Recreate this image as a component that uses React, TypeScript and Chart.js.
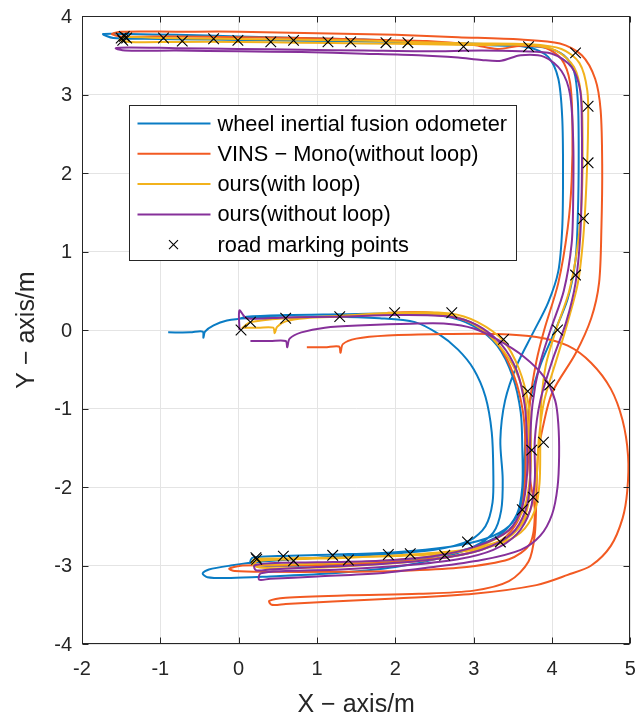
import { useEffect, useRef } from "react";
import { Chart, registerables } from "chart.js";

Chart.register(...registerables);

type P = [number, number];

const seriesLabels = [
  "wheel inertial fusion odometer",
  "VINS \u2212 Mono(without loop)",
  "ours(with loop)",
  "ours(without loop)",
  "road marking points",
];
const seriesColors = ["#0a7cc4", "#f25a22", "#f2b21c", "#86309a"];

const xTicks = [-2, -1, 0, 1, 2, 3, 4, 5];
const yTicks = [-4, -3, -2, -1, 0, 1, 2, 3, 4];

// wheel inertial fusion odometer
const wheelOdom: P[] = [
  [-0.9, -0.03], [-0.62, -0.03], [-0.46, -0.02], [-0.45, -0.1], [-0.43, -0.02], [-0.32, 0.06], [-0.15, 0.12], [0.1, 0.15], [0.6, 0.16], [1.2, 0.17], [1.8, 0.15], [2.25, 0.1], [2.55, -0.05], [2.8, -0.25], [3.0, -0.5], [3.15, -0.85], [3.23, -1.3],
  [3.25, -1.8], [3.24, -2.2], [3.15, -2.5], [2.95, -2.68], [2.5, -2.8], [1.8, -2.86], [1.0, -2.9], [0.3, -2.95], [-0.1, -3.0], [-0.38, -3.05], [-0.46, -3.1], [-0.4, -3.15], [-0.1, -3.16], [0.4, -3.14], [1.2, -3.1], [2.0, -3.02], [2.6, -2.9], [3.0, -2.76], [3.25, -2.58], [3.35, -2.3], [3.37, -1.9], [3.34, -1.4],
  [3.4, -0.9], [3.55, -0.45], [3.75, -0.05], [3.95, 0.35], [4.08, 0.75], [4.13, 1.3], [4.14, 2.0], [4.13, 2.7], [4.08, 3.2], [3.95, 3.48], [3.7, 3.6], [3.2, 3.64], [2.4, 3.66], [1.6, 3.7], [0.8, 3.72], [0.0, 3.74], [-0.8, 3.76], [-1.4, 3.77], [-1.73, 3.77], [-1.6, 3.72], [-1.2, 3.71], [-0.4, 3.7], [0.4, 3.69], [1.2, 3.68], [2.0, 3.67], [2.8, 3.64], [3.4, 3.62], [3.9, 3.6], [4.15, 3.5], [4.28, 3.3], [4.33, 2.9], [4.34, 2.2], [4.33, 1.5], [4.3, 0.9], [4.2, 0.4], [4.02, -0.05], [3.85, -0.45], [3.72, -0.9],
  [3.66, -1.4], [3.64, -1.9], [3.6, -2.25], [3.45, -2.5], [3.15, -2.66], [2.7, -2.76], [2.0, -2.83], [1.2, -2.86], [0.5, -2.88], [0.18, -2.9], [0.15, -2.96], [0.3, -3.0], [0.9, -3.0], [1.7, -2.97], [2.4, -2.9], [2.95, -2.78], [3.35, -2.6], [3.55, -2.35], [3.62, -2.0], [3.62, -1.5],
  [3.6, -1.05], [3.5, -0.6], [3.3, -0.2], [3.0, 0.05], [2.6, 0.18], [2.0, 0.21], [1.3, 0.2], [0.6, 0.19], [0.1, 0.17], [0.0, 0.14],
];

// VINS-Mono (without loop)
const vinsMono: P[] = [
  [0.87, -0.22], [1.1, -0.22], [1.28, -0.21], [1.3, -0.29], [1.33, -0.18], [1.5, -0.11], [1.9, -0.07], [2.6, -0.05], [3.3, -0.05], [3.8, -0.09], [4.2, -0.2], [4.5, -0.42], [4.75, -0.75], [4.9, -1.15], [4.97, -1.6], [4.96, -2.05], [4.9, -2.4], [4.75, -2.75], [4.5, -3.0], [4.2, -3.12], [3.8, -3.25], [3.0, -3.36], [2.0, -3.42], [1.2, -3.46], [0.6, -3.49], [0.42, -3.5], [0.39, -3.45], [0.6, -3.41], [1.4, -3.38], [2.3, -3.36], [3.0, -3.32], [3.45, -3.2], [3.7, -2.95], [3.78, -2.6], [3.8, -2.1], [3.82, -1.6], [3.88, -1.25],
  [4.0, -0.8], [4.3, -0.3], [4.5, 0.15], [4.6, 0.6], [4.63, 1.3], [4.64, 2.1], [4.62, 2.8], [4.55, 3.2], [4.38, 3.5], [4.1, 3.65], [3.6, 3.7], [2.8, 3.73], [2.0, 3.76], [1.0, 3.78], [0.0, 3.8], [-0.8, 3.8], [-1.5, 3.8], [-1.62, 3.77], [-1.5, 3.74], [-0.8, 3.74], [0.0, 3.73], [0.8, 3.72], [1.6, 3.7], [2.4, 3.68], [3.0, 3.63], [3.3, 3.58], [3.6, 3.62], [3.9, 3.6], [4.12, 3.45], [4.23, 3.15], [4.26, 2.6], [4.25, 1.9], [4.2, 1.3], [4.08, 0.6], [3.9, 0.0], [3.8, -0.4], [3.72, -0.9],
  [3.7, -1.4], [3.72, -1.9], [3.78, -2.3], [3.72, -2.72], [3.45, -2.92], [2.8, -3.03], [2.0, -3.07], [1.2, -3.08], [0.4, -3.08], [-0.05, -3.07], [-0.12, -3.04], [0.05, -3.0], [0.6, -3.0], [1.4, -2.98], [2.2, -2.94], [2.9, -2.85], [3.35, -2.68], [3.58, -2.4], [3.65, -2.0], [3.66, -1.5],
  [3.63, -1.05], [3.52, -0.6], [3.32, -0.2], [3.02, 0.07], [2.6, 0.2], [2.3, 0.23], [1.9, 0.22],
];

// ours (with loop)
const oursLoop: P[] = [
  [0.05, 0.03], [0.25, 0.03], [0.44, 0.03], [0.46, -0.04], [0.49, 0.04], [0.6, 0.11], [0.85, 0.15], [1.3, 0.17], [2.0, 0.2], [2.6, 0.2], [2.95, 0.1], [3.25, -0.12], [3.5, -0.45], [3.65, -0.85], [3.7, -1.3],
  [3.72, -1.8], [3.7, -2.2], [3.6, -2.48], [3.35, -2.68], [2.9, -2.8], [2.2, -2.86], [1.4, -2.9], [0.7, -2.92], [0.25, -2.94], [0.18, -2.99], [0.3, -3.03], [0.9, -3.03], [1.7, -2.99], [2.5, -2.92], [3.1, -2.8], [3.5, -2.6], [3.72, -2.3], [3.8, -1.9], [3.83, -1.4],
  [3.9, -0.9], [4.05, -0.4], [4.2, 0.1], [4.33, 0.6], [4.4, 1.2], [4.44, 1.9], [4.46, 2.6], [4.45, 3.05], [4.35, 3.4], [4.12, 3.58], [3.7, 3.64], [3.0, 3.65], [2.2, 3.67], [1.4, 3.69], [0.6, 3.7], [-0.2, 3.71], [-1.0, 3.72], [-1.45, 3.73], [-1.52, 3.7], [-1.4, 3.67], [-0.8, 3.67], [0.0, 3.67], [0.8, 3.66], [1.6, 3.65], [2.4, 3.64], [3.1, 3.63], [3.7, 3.63], [4.05, 3.56], [4.28, 3.35], [4.37, 3.0], [4.39, 2.4], [4.38, 1.7], [4.33, 1.1], [4.22, 0.5], [4.05, 0.0], [3.92, -0.45], [3.86, -0.95],
  [3.85, -1.45], [3.84, -1.95], [3.78, -2.3], [3.6, -2.58], [3.25, -2.75], [2.7, -2.84], [2.0, -2.88], [1.2, -2.9], [0.5, -2.91], [0.2, -2.92], [0.17, -2.97], [0.3, -2.99], [0.9, -2.98], [1.7, -2.95], [2.5, -2.88], [3.05, -2.76], [3.45, -2.55], [3.65, -2.25], [3.72, -1.85], [3.73, -1.4],
  [3.7, -0.95], [3.58, -0.5], [3.38, -0.14], [3.05, 0.1], [2.7, 0.21], [2.0, 0.22], [1.3, 0.18], [0.6, 0.15], [0.15, 0.1], [0.04, 0.02],
];

// ours (without loop)
const oursNoLoop: P[] = [
  [0.15, -0.14], [0.4, -0.14], [0.6, -0.14], [0.62, -0.22], [0.65, -0.11], [0.8, -0.03], [1.1, 0.03], [1.6, 0.06], [2.2, 0.08], [2.65, 0.08], [3.0, 0.02], [3.3, -0.12], [3.64, -0.34], [3.9, -0.6], [4.04, -0.9], [4.08, -1.2],
  [4.09, -1.6], [4.07, -2.0], [4.0, -2.35], [3.85, -2.62], [3.6, -2.8], [3.1, -2.93], [2.4, -3.03], [1.8, -3.1], [1.0, -3.14], [0.4, -3.17], [0.26, -3.18], [0.28, -3.1], [0.6, -3.07], [1.3, -3.05], [2.1, -3.0], [2.8, -2.92], [3.25, -2.8], [3.55, -2.6], [3.72, -2.3], [3.78, -1.9], [3.78, -1.4],
  [3.85, -0.9], [4.0, -0.4], [4.18, 0.1], [4.3, 0.6], [4.36, 1.2], [4.38, 1.9], [4.38, 2.6], [4.36, 3.05], [4.25, 3.35], [4.0, 3.52], [3.6, 3.55], [3.1, 3.56], [2.4, 3.55], [1.6, 3.56], [0.8, 3.57], [0.0, 3.58], [-0.8, 3.59], [-1.4, 3.6], [-1.57, 3.59], [-1.45, 3.56], [-0.8, 3.56], [0.0, 3.55], [0.8, 3.54], [1.6, 3.52], [2.3, 3.5], [2.8, 3.47], [3.1, 3.44], [3.35, 3.43], [3.6, 3.5], [3.9, 3.48], [4.12, 3.3], [4.23, 3.0], [4.27, 2.4], [4.27, 1.7], [4.25, 1.1], [4.15, 0.5], [3.98, 0.0], [3.84, -0.45], [3.75, -0.95],
  [3.72, -1.45], [3.72, -1.95], [3.66, -2.3], [3.48, -2.6], [3.1, -2.8], [2.5, -2.92], [1.8, -2.98], [1.0, -3.02], [0.4, -3.05], [0.22, -3.06], [0.2, -3.0], [0.4, -2.97], [1.0, -2.96], [1.8, -2.94], [2.5, -2.88], [3.05, -2.75], [3.45, -2.55], [3.62, -2.25], [3.68, -1.85], [3.68, -1.4],
  [3.65, -0.95], [3.55, -0.52], [3.35, -0.18], [3.05, 0.06], [2.7, 0.17], [2.0, 0.19], [1.3, 0.17], [0.6, 0.16], [0.1, 0.15], [0.01, 0.25], [0.01, 0.0],
];

// road marking points
const markers: P[] = [
  [-1.5, 3.72], [-1.46, 3.74], [-1.48, 3.69], [-1.43, 3.72], [-0.96, 3.72], [-0.72, 3.68], [-0.32, 3.71], [-0.01, 3.69], [0.41, 3.67], [0.7, 3.69], [1.14, 3.67], [1.43, 3.67], [1.88, 3.66], [2.16, 3.66], [2.87, 3.61], [3.7, 3.61], [4.3, 3.53],
  [4.46, 2.85], [4.46, 2.13], [4.4, 1.42], [4.3, 0.7], [4.07, 0.0],
  [3.97, -0.7], [3.69, -0.78], [3.38, -0.12], [3.74, -1.53], [3.89, -1.43], [3.76, -2.13], [3.62, -2.29],
  [3.34, -2.7], [2.92, -2.7], [2.63, -2.87], [2.19, -2.85], [1.91, -2.86], [1.4, -2.93], [1.2, -2.87], [0.7, -2.94], [0.57, -2.88], [0.23, -2.92], [0.22, -2.9],
  [0.03, 0.0], [0.15, 0.1], [0.6, 0.15], [1.29, 0.17], [1.99, 0.22], [2.72, 0.22],
];

const FONT = "'Liberation Sans', Arial, Helvetica, sans-serif";
const AXIS_COLOR = "#262626";

const toXY = (arr: P[]) => arr.map(([x, y]) => ({ x, y }));

function drawCross(ctx: CanvasRenderingContext2D, x: number, y: number, r: number) {
  ctx.beginPath();
  ctx.moveTo(x - r, y - r);
  ctx.lineTo(x + r, y + r);
  ctx.moveTo(x - r, y + r);
  ctx.lineTo(x + r, y - r);
  ctx.stroke();
}

const framePlugin = {
  id: "frameAndLegend",
  afterDraw(chart: any) {
    const { ctx, chartArea: a, scales } = chart;
    const xs = scales.x;
    const ys = scales.y;
    ctx.save();
    ctx.strokeStyle = AXIS_COLOR;
    ctx.lineWidth = 1;
    const L = Math.round(a.left) + 0.5;
    const R = Math.round(a.right) - 0.5;
    const T = Math.round(a.top) + 0.5;
    const B = Math.round(a.bottom) - 0.5;
    ctx.strokeRect(L, T, R - L, B - T);
    const tl = 6;
    ctx.beginPath();
    xTicks.forEach((v) => {
      const px = Math.round(xs.getPixelForValue(v)) + 0.5;
      ctx.moveTo(px, B);
      ctx.lineTo(px, B - tl);
      ctx.moveTo(px, T);
      ctx.lineTo(px, T + tl);
    });
    yTicks.forEach((v) => {
      const py = Math.round(ys.getPixelForValue(v)) + 0.5;
      ctx.moveTo(L, py);
      ctx.lineTo(L + tl, py);
      ctx.moveTo(R, py);
      ctx.lineTo(R - tl, py);
    });
    ctx.stroke();

    // tick labels
    ctx.fillStyle = AXIS_COLOR;
    ctx.font = `20px ${FONT}`;
    ctx.textBaseline = "middle";
    ctx.textAlign = "center";
    xTicks.forEach((v) => {
      ctx.fillText(String(v), xs.getPixelForValue(v), a.bottom + 25);
    });
    ctx.textAlign = "right";
    yTicks.forEach((v) => {
      ctx.fillText(String(v), a.left - 10, ys.getPixelForValue(v) + 1);
    });

    // legend box
    const bx = Math.round(a.left + 47) + 0.5;
    const by = Math.round(a.top + 89) + 0.5;
    const bw = 387;
    const bh = 155;
    ctx.fillStyle = "#ffffff";
    ctx.fillRect(bx, by, bw, bh);
    ctx.strokeStyle = AXIS_COLOR;
    ctx.lineWidth = 1;
    ctx.strokeRect(bx, by, bw, bh);
    const ds = chart.data.datasets;
    ctx.font = `21.8px ${FONT}`;
    ctx.textBaseline = "middle";
    ctx.textAlign = "left";
    ds.forEach((d: any, i: number) => {
      const cy = by + 18 + i * 30.3;
      if (d.showLine) {
        ctx.strokeStyle = d.borderColor;
        ctx.lineWidth = 2;
        ctx.beginPath();
        ctx.moveTo(bx + 8, cy);
        ctx.lineTo(bx + 81, cy);
        ctx.stroke();
      } else {
        ctx.strokeStyle = "#000";
        ctx.lineWidth = 1.1;
        drawCross(ctx, bx + 44, cy, 4.5);
      }
      ctx.fillStyle = "#000";
      ctx.fillText(d.label, bx + 88, cy + 1);
    });
    ctx.restore();
  },
};

export default function App() {
  const ref = useRef<HTMLCanvasElement | null>(null);
  useEffect(() => {
    if (!ref.current) return;
    Chart.defaults.font.family = FONT;
    const lineDs = (label: string, data: P[], color: string, order: number) => ({
      label,
      data: toXY(data),
      showLine: true,
      borderColor: color,
      backgroundColor: color,
      borderWidth: 2,
      pointRadius: 0,
      tension: 0.3,
      fill: false,
      order,
    });
    const chart = new Chart(ref.current, {
      type: "scatter",
      data: {
        datasets: [
          lineDs(seriesLabels[0], wheelOdom, seriesColors[0], 5),
          lineDs(seriesLabels[1], vinsMono, seriesColors[1], 4),
          lineDs(seriesLabels[2], oursLoop, seriesColors[2], 3),
          lineDs(seriesLabels[3], oursNoLoop, seriesColors[3], 2),
          {
            label: seriesLabels[4],
            data: toXY(markers),
            showLine: false,
            pointStyle: "crossRot",
            pointRadius: 7.5,
            borderColor: "#000000",
            backgroundColor: "#000000",
            borderWidth: 1.1,
            order: 1,
          } as any,
        ],
      },
      options: {
        animation: false,
        responsive: false,
        devicePixelRatio: 1,
        layout: { padding: { top: 16, right: 8, left: 0, bottom: 0 } },
        plugins: { legend: { display: false }, tooltip: { enabled: false } },
        events: [],
        scales: {
          x: {
            type: "linear",
            min: -2,
            max: 5,
            afterBuildTicks: (s: any) => {
              s.ticks = xTicks.map((v) => ({ value: v }));
            },
            afterFit: (s: any) => {
              s.height = 74;
            },
            grid: { color: "#e4e4e4", lineWidth: 1, drawTicks: false },
            border: { display: false },
            ticks: { display: false },
            title: {
              display: true,
              text: "X \u2212 axis/m",
              color: AXIS_COLOR,
              font: { size: 25, family: FONT, lineHeight: 1 },
              padding: { top: 0, bottom: 0 },
            },
          },
          y: {
            type: "linear",
            min: -4,
            max: 4,
            afterBuildTicks: (s: any) => {
              s.ticks = yTicks.map((v) => ({ value: v }));
            },
            afterFit: (s: any) => {
              s.width = 82;
            },
            grid: { color: "#e4e4e4", lineWidth: 1, drawTicks: false },
            border: { display: false },
            ticks: { display: false },
            title: {
              display: true,
              text: "Y \u2212 axis/m",
              color: AXIS_COLOR,
              font: { size: 25, family: FONT, lineHeight: 1 },
              padding: { top: 15, bottom: 0 },
            },
          },
        },
      },
      plugins: [framePlugin],
    });
    return () => chart.destroy();
  }, []);
  return (
    <div style={{ position: "fixed", left: 0, top: 0, width: 639, height: 718, background: "#fff" }}>
      <canvas ref={ref} width={639} height={718} style={{ width: 639, height: 718, display: "block" }} />
    </div>
  );
}
